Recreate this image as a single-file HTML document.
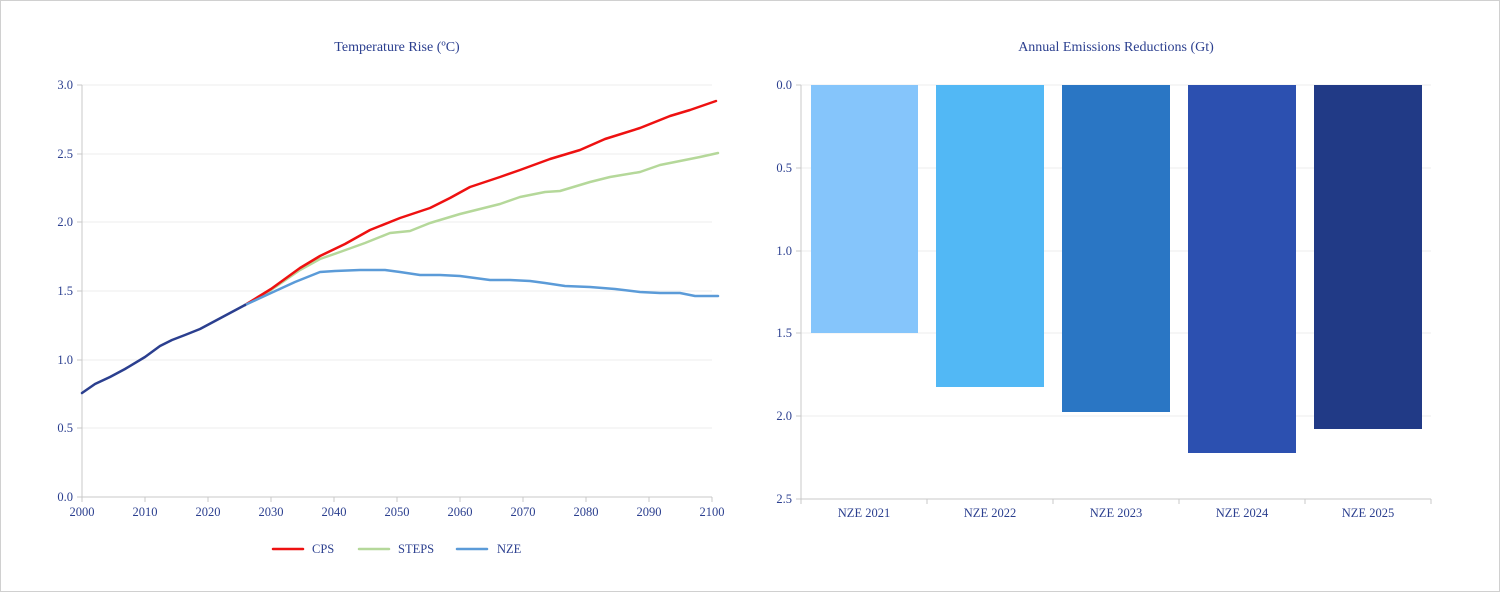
<!DOCTYPE html><html><head><style>body{margin:0;background:#fff}svg{display:block}text{font-family:"Liberation Serif",serif;fill:#2b3f8f}</style></head><body>
<svg width="1500" height="592" viewBox="0 0 1500 592">
<rect x="0.5" y="0.5" width="1499" height="591" fill="#fff" stroke="#d0d0d0"/>
<text x="397" y="51" font-size="14" text-anchor="middle">Temperature Rise (ºC)</text>
<text x="1116" y="51" font-size="14" text-anchor="middle">Annual Emissions Reductions (Gt)</text>
<g stroke="#eeeeee">
<line x1="82" x2="712" y1="85" y2="85"/><line x1="82" x2="712" y1="154" y2="154"/><line x1="82" x2="712" y1="222" y2="222"/><line x1="82" x2="712" y1="291" y2="291"/><line x1="82" x2="712" y1="360" y2="360"/><line x1="82" x2="712" y1="428" y2="428"/>
<line x1="801" x2="1431" y1="85" y2="85"/><line x1="801" x2="1431" y1="168" y2="168"/><line x1="801" x2="1431" y1="251" y2="251"/><line x1="801" x2="1431" y1="333" y2="333"/><line x1="801" x2="1431" y1="416" y2="416"/>
</g>
<g stroke="#c8c8c8">
<line x1="82" y1="85" x2="82" y2="497"/><line x1="82" y1="497" x2="712" y2="497"/>
<line x1="801" y1="85" x2="801" y2="499"/><line x1="801" y1="499" x2="1431" y2="499"/>
<line x1="77" x2="82" y1="85" y2="85"/><line x1="77" x2="82" y1="154" y2="154"/><line x1="77" x2="82" y1="222" y2="222"/><line x1="77" x2="82" y1="291" y2="291"/><line x1="77" x2="82" y1="360" y2="360"/><line x1="77" x2="82" y1="428" y2="428"/><line x1="77" x2="82" y1="497" y2="497"/>
<line x1="82" x2="82" y1="497" y2="502"/><line x1="145" x2="145" y1="497" y2="502"/><line x1="208" x2="208" y1="497" y2="502"/><line x1="271" x2="271" y1="497" y2="502"/><line x1="334" x2="334" y1="497" y2="502"/><line x1="397" x2="397" y1="497" y2="502"/><line x1="460" x2="460" y1="497" y2="502"/><line x1="523" x2="523" y1="497" y2="502"/><line x1="586" x2="586" y1="497" y2="502"/><line x1="649" x2="649" y1="497" y2="502"/><line x1="712" x2="712" y1="497" y2="502"/>
<line x1="796" x2="801" y1="85" y2="85"/><line x1="796" x2="801" y1="168" y2="168"/><line x1="796" x2="801" y1="251" y2="251"/><line x1="796" x2="801" y1="333" y2="333"/><line x1="796" x2="801" y1="416" y2="416"/><line x1="796" x2="801" y1="499" y2="499"/>
<line x1="801" x2="801" y1="499" y2="504"/><line x1="927" x2="927" y1="499" y2="504"/><line x1="1053" x2="1053" y1="499" y2="504"/><line x1="1179" x2="1179" y1="499" y2="504"/><line x1="1305" x2="1305" y1="499" y2="504"/><line x1="1431" x2="1431" y1="499" y2="504"/>
</g>
<g font-size="12.5" text-anchor="end">
<text x="73" y="89">3.0</text><text x="73" y="158">2.5</text><text x="73" y="226">2.0</text><text x="73" y="295">1.5</text><text x="73" y="364">1.0</text><text x="73" y="432">0.5</text><text x="73" y="501">0.0</text>
<text x="792" y="89">0.0</text><text x="792" y="172">0.5</text><text x="792" y="255">1.0</text><text x="792" y="337">1.5</text><text x="792" y="420">2.0</text><text x="792" y="503">2.5</text>
</g>
<g font-size="12.5" text-anchor="middle">
<text x="82" y="516">2000</text><text x="145" y="516">2010</text><text x="208" y="516">2020</text><text x="271" y="516">2030</text><text x="334" y="516">2040</text><text x="397" y="516">2050</text><text x="460" y="516">2060</text><text x="523" y="516">2070</text><text x="586" y="516">2080</text><text x="649" y="516">2090</text><text x="712" y="516">2100</text>
<text x="864" y="517">NZE 2021</text><text x="990" y="517">NZE 2022</text><text x="1116" y="517">NZE 2023</text><text x="1242" y="517">NZE 2024</text><text x="1368" y="517">NZE 2025</text>
</g>
<rect x="811" y="85" width="107" height="248" fill="#85c5fb"/>
<rect x="936" y="85" width="108" height="302" fill="#52b8f5"/>
<rect x="1062" y="85" width="108" height="327" fill="#2a76c4"/>
<rect x="1188" y="85" width="108" height="368" fill="#2c50b0"/>
<rect x="1314" y="85" width="108" height="344" fill="#213a86"/>
<g fill="none" stroke-width="2.5" stroke-linejoin="round" stroke-linecap="round">
<polyline stroke="#b5d89a" points="245,305 258,298 271,290 300,270 320,259 340,252 365,243 390,233 410,231 430,223 460,214 500,204 520,197 545,192 560,191 590,182 610,177 640,172 660,165 680,161 700,157 718,153"/>
<polyline stroke="#ee1111" points="245,305 258,297 271,289 300,268 320,256 345,244 370,230 400,218 430,208 450,198 470,187 500,177 520,170 550,159 580,150 605,139 640,128 670,116 690,110 716,101"/>
<polyline stroke="#5b9bd8" points="245,305 258,299 271,293 295,282 320,272 335,271 360,270 385,270 400,272 420,275 440,275 460,276 475,278 490,280 510,280 530,281 545,283 565,286 590,287 615,289 640,292 660,293 680,293 695,296 718,296"/>
<polyline stroke="#2b3f8f" points="82,393 95,384 110,377 125,369 145,357 160,346 172,340 185,335 200,329 215,321 230,313 245,305"/>
<line x1="273" x2="303" y1="549" y2="549" stroke="#ee1111"/>
<line x1="359" x2="389" y1="549" y2="549" stroke="#b5d89a"/>
<line x1="457" x2="487" y1="549" y2="549" stroke="#5b9bd8"/>
</g>
<g font-size="12.5"><text x="312" y="553">CPS</text><text x="398" y="553">STEPS</text><text x="497" y="553">NZE</text></g>
</svg></body></html>
